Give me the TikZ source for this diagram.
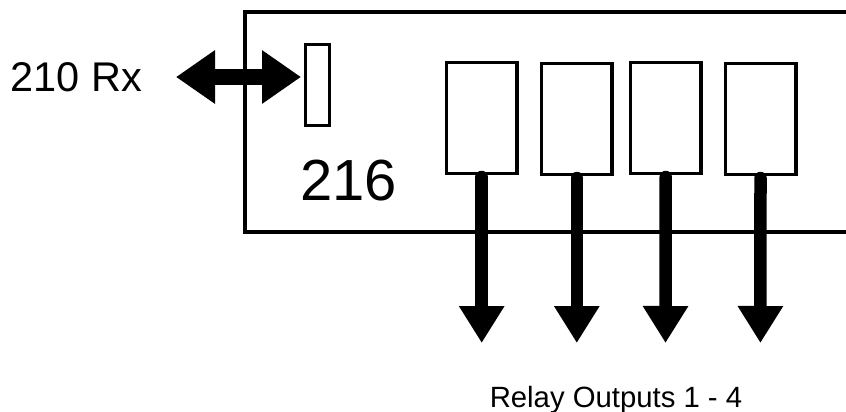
\documentclass[tikz,border=0pt]{standalone}
\usepackage{fontspec}
\setmainfont{Liberation Sans}
\usetikzlibrary{arrows.meta}
\begin{document}
\begin{tikzpicture}[x=1pt,y=-1pt,
  frame/.style={line width=3.5pt},
  relaybox/.style={draw,line width=3.5pt,minimum width=70.5pt,minimum height=110.5pt,inner sep=0pt},
  portbox/.style={draw,line width=3.2pt,minimum width=23.8pt,minimum height=80.8pt,inner sep=0pt},
  relayarrow/.style={line width=12.5pt,line cap=round,-{Triangle[width=43pt,length=37pt]}},
  dblarrow/.style={line width=16pt,{Triangle[width=51pt,length=39pt]}-{Triangle[width=51pt,length=39pt]}},
  lbl/.style={inner sep=0pt,outer sep=0pt}
]
\useasboundingbox (0,0) rectangle (846,412);
% main block (open on the right)
\coordinate (tr) at (848,12);
\coordinate (tl) at (245,12);
\coordinate (bl) at (245,232);
\coordinate (br) at (848,232);
\draw[frame] (tr) -- (tl) -- (bl) -- (br);
% port
\node[portbox] (port) at (317.5,85) {};
% relays
\node[relaybox] (r1) at (481.7,118) {};
\node[relaybox] (r2) at (576.8,119) {};
\node[relaybox] (r3) at (665.7,118) {};
\node[relaybox] (r4) at (760.5,119) {};
% outputs
\coordinate (o1) at (481.7,343);
\coordinate (o2) at (576.8,343);
\coordinate (o3) at (665.5,343);
\coordinate (o4) at (760.4,343);
\foreach \i in {1,2,3,4} \draw[relayarrow] ([yshift=-2pt]r\i.south) -- (o\i);
% Rx arrow
\coordinate (rxend) at (176,77);
\coordinate (porttip) at (301,77);
\draw[dblarrow] (rxend) -- (porttip);
% labels
\node[lbl,anchor=base west,font=\fontsize{41.5}{50}\selectfont] (rx) at (10.5,91.5) {210 Rx};
\node[lbl,anchor=base west,font=\fontsize{58}{70}\selectfont] (num) at (300.5,200) {216};
\node[lbl,anchor=base,font=\fontsize{29.3}{35}\selectfont] (outs) at (616,407) {Relay Outputs 1 - 4};
\end{tikzpicture}
\end{document}
